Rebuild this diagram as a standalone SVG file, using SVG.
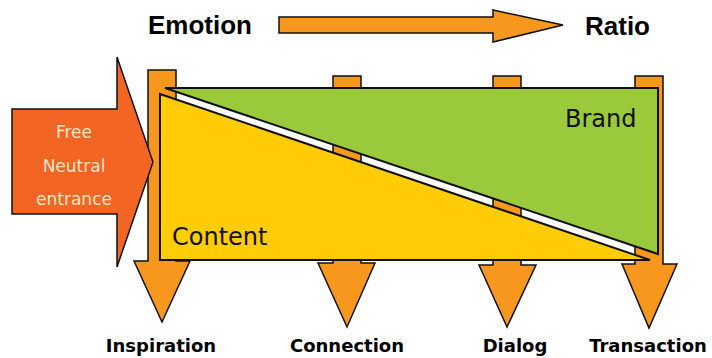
<svg xmlns="http://www.w3.org/2000/svg" width="712" height="358" viewBox="0 0 712 358">
<style>
.bar{fill:#f7971e;stroke:#111;stroke-width:1.5;stroke-linejoin:miter}
.big{font-family:"Liberation Sans",Arial,sans-serif;font-weight:bold;font-size:26px;fill:#000}
.lbl{font-family:"DejaVu Sans",Verdana,sans-serif;font-weight:bold;font-size:18px;fill:#000;text-anchor:middle}
.area{font-family:"DejaVu Sans",Verdana,sans-serif;font-size:24px;fill:#111}
.entry{font-family:"DejaVu Sans",Verdana,sans-serif;font-size:17px;fill:#fde6c8;text-anchor:middle}
</style>
<rect width="712" height="358" fill="#fff"/>
<g id="header">
<text class="big" x="148" y="34">Emotion</text>
<polygon class="bar" points="279,17 493,17 493,10 563,25 493,42 493,33 279,33"/>
<text class="big" x="585" y="35">Ratio</text>
</g>
<g id="connectors">
<polygon id="arrow-inspiration" class="bar" points="148,70 176,70 176,261 190,261 162,322 134,261 148,261"/>
<polygon id="arrow-connection" class="bar" points="333,76 361,76 361,263 375,263 347,327 318,263 333,263"/>
<polygon id="arrow-dialog" class="bar" points="493,76 521,76 521,265 536,265 507,327 479,265 493,265"/>
<polygon id="arrow-transaction" class="bar" points="635,76 663,76 663,264 677,264 649,328 622,264 635,264"/>
</g>
<g id="brand">
<polygon points="165,88 658,88 658,254" fill="#9aca3c" stroke="#111" stroke-width="2" stroke-linejoin="miter"/>
<text class="area" x="565" y="127">Brand</text>
</g>
<g id="content">
<polygon points="160,94 650,260 160,260" fill="#ffcc05" stroke="#111" stroke-width="2" stroke-linejoin="miter"/>
<text class="area" x="172" y="245">Content</text>
</g>
<g id="entrance">
<polygon points="12,109 117,109 117,57 153,162 117,267 117,214 12,214" fill="#f26522" stroke="#111" stroke-width="1.5"/>
<text class="entry" x="74" y="138">Free</text>
<text class="entry" x="74" y="172">Neutral</text>
<text class="entry" x="74" y="205">entrance</text>
</g>
<g id="labels">
<text class="lbl" x="161" y="352">Inspiration</text>
<text class="lbl" x="347" y="352">Connection</text>
<text class="lbl" x="515" y="352">Dialog</text>
<text class="lbl" x="648" y="352">Transaction</text>
</g>
</svg>
